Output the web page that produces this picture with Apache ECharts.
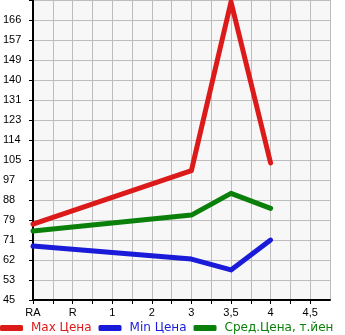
<!DOCTYPE html>
<html><head><meta charset="utf-8">
<script src="https://cdn.jsdelivr.net/npm/echarts@6/dist/echarts.min.js"></script>
<style>html,body{margin:0;padding:0;background:#fff}#c{width:345px;height:335px}</style>
</head><body><div id="c"></div>
<script>
var categories = ['RA','R','1','2','3','3,5','4','4,5'];
var yTickLabels = ['45','53','62','71','79','88','97','105','114','123','131','140','149','157','166'];
var maxPrice = [77.8, null, null, null, 100.9, 173.8, 104.2, null];
var minPrice = [68.3, null, null, null, 62.7, 58.0, 70.9, null];
var avgPrice = [74.8, null, null, null, 81.7, 91.1, 84.6, null];
var seriesNames = ['Max Цена', 'Min Цена', 'Сред.Цена, т.йен'];
var colors = ['#dd1a1a', '#1a1ad9', '#0a800a'];

var yMin = 45, yStep = (166 - 45) / 14;
function toPairs(arr){ var out=[]; arr.forEach(function(v,i){ if(v!==null) out.push([i,v]); }); return out; }

var chart = echarts.init(document.getElementById('c'));
var font = 'Liberation Sans, Arial, sans-serif';
chart.setOption({
  animation:false,
  backgroundColor:'#ffffff',
  grid:{left:31, right:15, top:0, bottom:35, show:true, backgroundColor:'#f7f7f7', borderWidth:0},
  xAxis:{type:'value', min:0, max:7.5, interval:0.5,
    axisLine:{show:true, lineStyle:{color:'#000', width:2}},
    axisTick:{show:true, length:4, lineStyle:{color:'#000'}},
    splitLine:{show:true, lineStyle:{color:'#bdbdbd', width:1}},
    axisLabel:{margin:7, fontFamily:font, fontSize:11, color:'#000',
      formatter:function(v){ return (Math.abs(v-Math.round(v))<1e-6 && categories[Math.round(v)]!==undefined) ? categories[Math.round(v)] : ''; },
      showMaxLabel:false}
  },
  yAxis:{type:'value', min:yMin, max:yMin+15*yStep, interval:yStep,
    axisLine:{show:true, lineStyle:{color:'#000', width:2}},
    axisTick:{show:true, length:4, lineStyle:{color:'#000'}},
    splitLine:{show:true, lineStyle:{color:'#bdbdbd', width:1}},
    axisLabel:{align:'left', margin:30, fontFamily:font, fontSize:11, color:'#000', padding:[0,0,6,0],
      formatter:function(v){ var i=Math.round((v-yMin)/yStep); return yTickLabels[i]||''; }}
  },
  legend:{left:0, top:321, padding:0, itemWidth:23, itemHeight:6, itemGap:7, icon:'roundRect',
    textStyle:{fontFamily:'DejaVu Sans, sans-serif', fontSize:12, lineHeight:14, padding:[0,0,0,3]},
    data:seriesNames.map(function(n,i){ return {name:n, textStyle:{color:colors[i]}}; })
  },
  series:[maxPrice, minPrice, avgPrice].map(function(arr,i){
    return {name:seriesNames[i], type:'line', data:toPairs(arr), symbol:'none', connectNulls:true,
      color:colors[i], lineStyle:{width:5, color:colors[i], cap:'round', join:'round'}};
  })
});
</script></body></html>
